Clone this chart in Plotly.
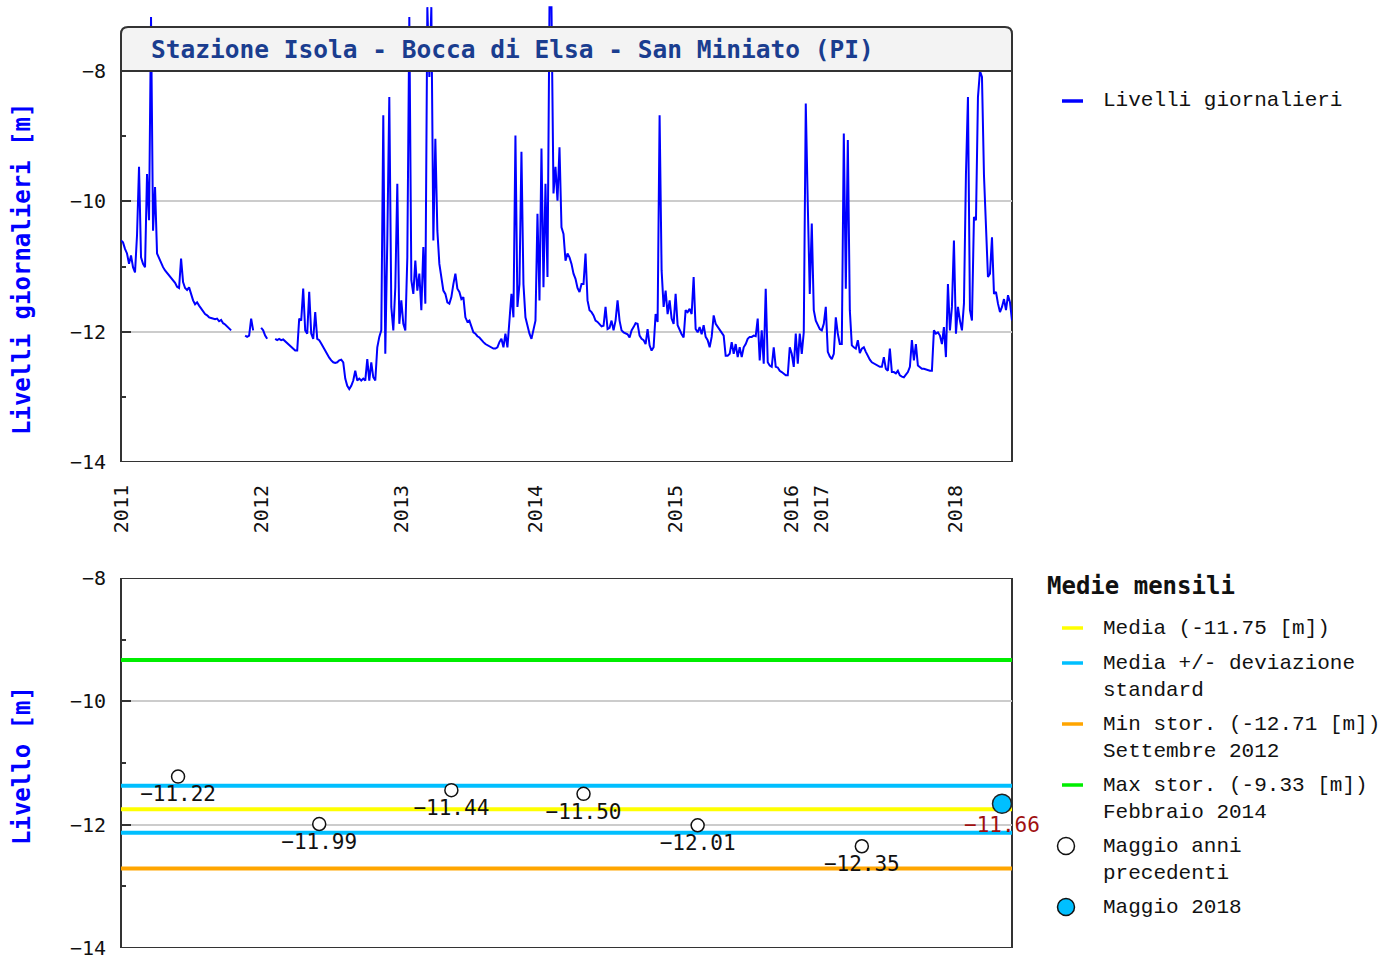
import plotly.graph_objects as go

W, H = 1397, 962

# ---------------- data ----------------
station = "Stazione Isola - Bocca di Elsa - San Miniato (PI)"
years = ["2011", "2012", "2013", "2014", "2015", "2016", "2017", "2018"]

lv_2011 = [-10.60, -10.63, -10.73, -10.80, -10.96, -10.83, -11.01, -11.09, -10.52, -9.47,
           -10.86, -10.96, -11.01, -9.58, -10.29, -7.17, -10.45, -9.78, -10.80, -10.88,
           -10.96, -11.01, -11.06, -11.10, -11.14, -11.17, -11.21, -11.25, -11.31, -11.33,
           -10.88, -11.24, -11.33, -11.36, -11.32, -11.44, -11.52, -11.58, -11.55, -11.60,
           -11.65, -11.70, -11.73, -11.75, -11.78, -11.79, -11.80, -11.81, -11.80, -11.84,
           -11.82, -11.87, -11.89, -11.92, -11.94, -11.98, None, None, None, None,
           None, None, -12.06, -12.08, -12.06, -11.80, -11.98, None, None, None]
lv_2012 = [-11.94, -11.98, -12.06, -12.11, None, None, None, -12.11, -12.13, -12.11,
           -12.13, -12.12, -12.15, -12.18, -12.21, -12.24, -12.26, -12.29, -12.29, -11.80,
           -11.83, -11.34, -11.98, -12.03, -11.39, -12.03, -12.11, -11.70, -12.11, -12.13,
           -12.18, -12.24, -12.29, -12.35, -12.40, -12.44, -12.47, -12.48, -12.47, -12.44,
           -12.43, -12.47, -12.72, -12.83, -12.88, -12.83, -12.75, -12.60, -12.75, -12.72,
           -12.75, -12.72, -12.75, -12.42, -12.75, -12.47, -12.70, -12.75, -12.24, -12.08,
           -11.98, -8.68, -12.34, -10.60, -8.40, -11.62, -11.98, -11.32, -9.73, -11.88]
lv_2013 = [-11.52, -11.88, -11.98, -10.86, -7.17, -11.21, -11.42, -10.91, -11.37, -11.11,
           -11.67, -10.70, -11.57, -7.02, -8.09, -7.02, -10.60, -9.04, -10.45, -10.96,
           -11.19, -11.37, -11.42, -11.55, -11.57, -11.47, -11.27, -11.11, -11.34, -11.39,
           -11.50, -11.47, -11.78, -11.85, -11.83, -11.92, -12.01, -12.03, -12.07, -12.09,
           -12.13, -12.16, -12.19, -12.21, -12.23, -12.24, -12.26, -12.26, -12.24, -12.16,
           -12.11, -12.24, -12.03, -12.24, -11.85, -11.42, -11.78, -8.99, -11.62, -11.27,
           -9.24, -11.27, -11.78, -11.93, -12.03, -12.11, -11.98]
lv_2014 = [-11.83, -10.19, -11.52, -9.19, -11.32, -9.73, -11.16, -7.02, -7.02, -9.88,
           -9.47, -9.99, -9.17, -10.40, -10.50, -10.91, -10.80, -10.86, -10.96, -11.11,
           -11.19, -11.33, -11.39, -11.27, -11.27, -10.80, -11.52, -11.67, -11.70, -11.75,
           -11.83, -11.85, -11.89, -11.92, -11.91, -11.62, -11.96, -11.94, -11.83, -11.98,
           -11.83, -11.52, -11.83, -11.98, -12.01, -12.03, -12.04, -12.09, -11.98, -11.93,
           -11.87, -11.88, -12.06, -12.11, -12.13, -12.19, -11.96, -12.21, -12.29, -12.24,
           -11.73, -11.85, -8.68, -11.06, -11.62, -11.37, -11.73, -11.52, -11.80, -11.88]
lv_2015 = [-11.42, -11.90, -11.98, -12.04, -12.09, -11.67, -11.70, -11.65, -11.73, -11.16,
           -11.96, -12.01, -11.93, -12.04, -11.90, -12.08, -12.13, -12.24, -12.08, -11.75,
           -11.88, -11.93, -11.98, -12.02, -12.06, -12.37, -12.37, -12.34, -12.16, -12.34,
           -12.19, -12.39, -12.24, -12.39, -12.24, -12.19, -12.11, -12.08, -12.08, -12.06,
           -12.07, -11.80, -12.44, -11.98, -12.49, -11.34, -12.47, -12.52, -12.54, -12.24,
           -12.54, -12.55, -12.60, -12.62, -12.65, -12.67, -12.67, -12.24]
lv_2016 = [-12.34, -12.54, -12.03, -12.49, -12.03, -12.34, -12.01, -8.50, -10.04, -11.42,
           -10.34, -11.67, -11.83, -11.89, -11.96]
lv_2017 = [-11.98, -11.88, -11.62, -12.31, -12.38, -12.42, -12.34, -11.78, -12.03, -12.19,
           -12.19, -8.96, -11.34, -9.06, -11.67, -12.21, -12.24, -12.26, -12.13, -12.33,
           -12.26, -12.24, -12.31, -12.38, -12.43, -12.47, -12.49, -12.51, -12.52, -12.54,
           -12.54, -12.39, -12.57, -12.60, -12.26, -12.62, -12.62, -12.64, -12.60, -12.67,
           -12.69, -12.70, -12.66, -12.62, -12.54, -12.13, -12.44, -12.19, -12.52, -12.55,
           -12.57, -12.57, -12.58, -12.60, -12.60, -12.60, -11.98, -12.03, -12.01, -12.06,
           -12.19, -11.93, -12.39, -11.27, -11.98, -11.62, -10.60]
lv_2018 = [-12.03, -11.62, -11.83, -11.98, -11.57, -9.58, -8.40, -11.67, -11.83, -10.24,
           -10.29, -8.40, -8.00, -8.09, -9.60, -10.29, -11.16, -11.11, -10.55, -11.42,
           -11.39, -11.57, -11.70, -11.62, -11.50, -11.67, -11.44, -11.55, -11.83]
daily_by_year = [lv_2011, lv_2012, lv_2013, lv_2014, lv_2015, lv_2016, lv_2017, lv_2018]

# monthly statistics (May)
media = -11.75
dev_std = 0.38
min_stor = -12.71
min_when = "Settembre 2012"
max_stor = -9.33
max_when = "Febbraio 2014"
may_pos = [28.5, 99, 165, 231, 288, 370]          # position of May in the daily series
may_vals = [-11.22, -11.99, -11.44, -11.50, -12.01, -12.35]
cur_label = "Maggio 2018"
cur_pos = [440]
cur_vals = [-11.66]

y_ticks = [-8, -10, -12, -14]
y_minor = [-9, -11, -13]

# ---------------- build ----------------
levels, year_start = [], []
for seg in daily_by_year:
    year_start.append(len(levels))
    levels.extend(seg)
idx = list(range(len(levels)))
x_max = len(levels) - 1


def fmt(v):
    return f"{v:.2f}".replace("-", "\u2212")


def px(x):
    return x / W


def py(y):
    return 1 - y / H


MONO = "DejaVu Sans Mono"
THIN = "Liberation Mono"
C_BLUE = "#0000ff"
C_YELLOW = "#ffff00"
C_CYAN = "#00bfff"
C_ORANGE = "#ffa500"
C_GREEN = "#00ee00"
C_FRAME = "#333333"

X0, X1 = 121, 1012
TOP_PX = 4
top_ymax = -8 + (71 - TOP_PX) / ((462 - 71) / 6.0)
title_top = -8 + (71 - 27) / ((462 - 71) / 6.0)

fig = go.Figure()

fig.add_trace(go.Scatter(x=idx, y=levels, mode="lines", connectgaps=False,
                         line=dict(color=C_BLUE, width=2),
                         xaxis="x", yaxis="y", showlegend=False))

for val, col in [(min_stor, C_ORANGE), (media - dev_std, C_CYAN), (media + dev_std, C_CYAN),
                 (media, C_YELLOW), (max_stor, C_GREEN)]:
    fig.add_trace(go.Scatter(x=[0, x_max], y=[val, val], mode="lines",
                             line=dict(color=col, width=4),
                             xaxis="x2", yaxis="y2", showlegend=False))

fig.add_trace(go.Scatter(x=may_pos, y=may_vals, mode="markers+text",
                         marker=dict(symbol="circle", size=13, color="white",
                                     line=dict(color="#111111", width=1.5)),
                         text=[fmt(v) for v in may_vals], textposition="bottom center",
                         textfont=dict(family=MONO, size=21, color="#111111"),
                         cliponaxis=False, xaxis="x2", yaxis="y2", showlegend=False))
fig.add_trace(go.Scatter(x=cur_pos, y=cur_vals, mode="markers+text",
                         marker=dict(symbol="circle", size=19, color=C_CYAN,
                                     line=dict(color="#222222", width=1.5)),
                         text=[fmt(v) for v in cur_vals], textposition="bottom center",
                         textfont=dict(family=MONO, size=21, color="#a01010"),
                         cliponaxis=False, xaxis="x2", yaxis="y2", showlegend=False))

yaxis_common = dict(tickmode="array", tickvals=y_ticks, ticks="inside", ticklen=10,
                    tickwidth=1.5, tickcolor=C_FRAME,
                    minor=dict(tickmode="array", tickvals=y_minor, ticks="inside",
                               ticklen=5, tickwidth=1.5, tickcolor=C_FRAME, showgrid=False),
                    showgrid=True, gridcolor="#cccccc", gridwidth=2, zeroline=False,
                    showline=False, tickfont=dict(family=MONO, size=20, color="#111111"),
                    ticklabelstandoff=14, fixedrange=True, automargin=False)

shapes = []
# title box with rounded top corners (drawn above the data, like the reference)
rx = 7 / W
ry = 7 / ((462 - 71) / 6.0)
a, b = px(X0), px(X1)
path = (f"M {a},-8 L {a},{title_top - ry} Q {a},{title_top} {a + rx},{title_top} "
        f"L {b - rx},{title_top} Q {b},{title_top} {b},{title_top - ry} L {b},-8 Z")
shapes.append(dict(type="path", path=path, xref="paper", yref="y", fillcolor="#f3f3f3",
                   line=dict(color=C_FRAME, width=2), layer="above"))
shapes.append(dict(type="rect", xref="paper", yref="y", x0=a, x1=b, y0=-14, y1=-8,
                   line=dict(color=C_FRAME, width=2), layer="between"))
shapes.append(dict(type="rect", xref="paper", yref="y2", x0=a, x1=b, y0=-14, y1=-8,
                   line=dict(color=C_FRAME, width=2), layer="between"))

annotations = [
    dict(text=f"<b>{station}</b>", x=px(149), y=py(50), xref="paper", yref="paper",
         xanchor="left", yanchor="middle", showarrow=False,
         font=dict(family=MONO, size=24.5, color="#1a3d8f")),
    dict(text="<b>Livelli giornalieri [m]</b>", x=px(22), y=py(269), xref="paper",
         yref="paper", textangle=-90, xanchor="center", yanchor="middle", showarrow=False,
         font=dict(family=MONO, size=24, color=C_BLUE)),
    dict(text="<b>Livello [m]</b>", x=px(22), y=py(766), xref="paper", yref="paper",
         textangle=-90, xanchor="center", yanchor="middle", showarrow=False,
         font=dict(family=MONO, size=24, color=C_BLUE)),
    dict(text="<b>Medie mensili</b>", x=px(1045), y=py(586), xref="paper", yref="paper",
         xanchor="left", yanchor="middle", showarrow=False,
         font=dict(family=MONO, size=24, color="#111111")),
]

# legend entries (manual)
legend_lines = [
    (101, C_BLUE, ["Livelli giornalieri"]),
    (628, C_YELLOW, [f"Media ({media:.2f} [m])"]),
    (663, C_CYAN, ["Media +/- deviazione", "standard"]),
    (724, C_ORANGE, [f"Min stor. ({min_stor:.2f} [m])", min_when]),
    (785, C_GREEN, [f"Max stor. ({max_stor:.2f} [m])", max_when]),
]
for yy, col, lines in legend_lines:
    shapes.append(dict(type="line", xref="paper", yref="paper", x0=px(1062), x1=px(1083),
                       y0=py(yy), y1=py(yy), line=dict(color=col, width=3.5)))
    for k, t in enumerate(lines):
        annotations.append(dict(text=t, x=px(1101), y=py(yy + 27 * k), xref="paper",
                                yref="paper", xanchor="left", yanchor="middle",
                                showarrow=False,
                                font=dict(family=THIN, size=21, color="#111111")))

for yy, fill, lines in [(846, "white", ["Maggio anni", "precedenti"]),
                        (907, C_CYAN, [cur_label])]:
    r = 8.5
    shapes.append(dict(type="circle", xref="paper", yref="paper",
                       x0=px(1066 - r), x1=px(1066 + r), y0=py(yy + r), y1=py(yy - r),
                       fillcolor=fill, line=dict(color="#111111", width=1.5)))
    for k, t in enumerate(lines):
        annotations.append(dict(text=t, x=px(1101), y=py(yy + 27 * k), xref="paper",
                                yref="paper", xanchor="left", yanchor="middle",
                                showarrow=False,
                                font=dict(family=THIN, size=21, color="#111111")))

fig.update_layout(
    width=W, height=H, margin=dict(l=0, r=0, t=0, b=0, autoexpand=False),
    paper_bgcolor="white", plot_bgcolor="white", hovermode=False,
    xaxis=dict(domain=[px(X0), px(X1)], range=[0, x_max], anchor="y",
               tickmode="array", tickvals=year_start, ticktext=years, tickangle=-90,
               ticks="", showgrid=False, zeroline=False, showline=False,
               tickfont=dict(family=MONO, size=20, color="#111111"),
               ticklabelstandoff=18, fixedrange=True, automargin=False),
    yaxis=dict(domain=[py(462), py(TOP_PX)], range=[-14, top_ymax], anchor="x",
               **yaxis_common),
    xaxis2=dict(domain=[px(X0), px(X1)], range=[0, x_max], anchor="y2",
                showticklabels=False, ticks="", showgrid=False, zeroline=False,
                showline=False, fixedrange=True, automargin=False),
    yaxis2=dict(domain=[py(948), py(578)], range=[-14, -8], anchor="x2", **yaxis_common),
    shapes=shapes, annotations=annotations,
)

fig.write_html("out.html", config={"displayModeBar": False},
               post_script="document.body.style.margin='0px';")
